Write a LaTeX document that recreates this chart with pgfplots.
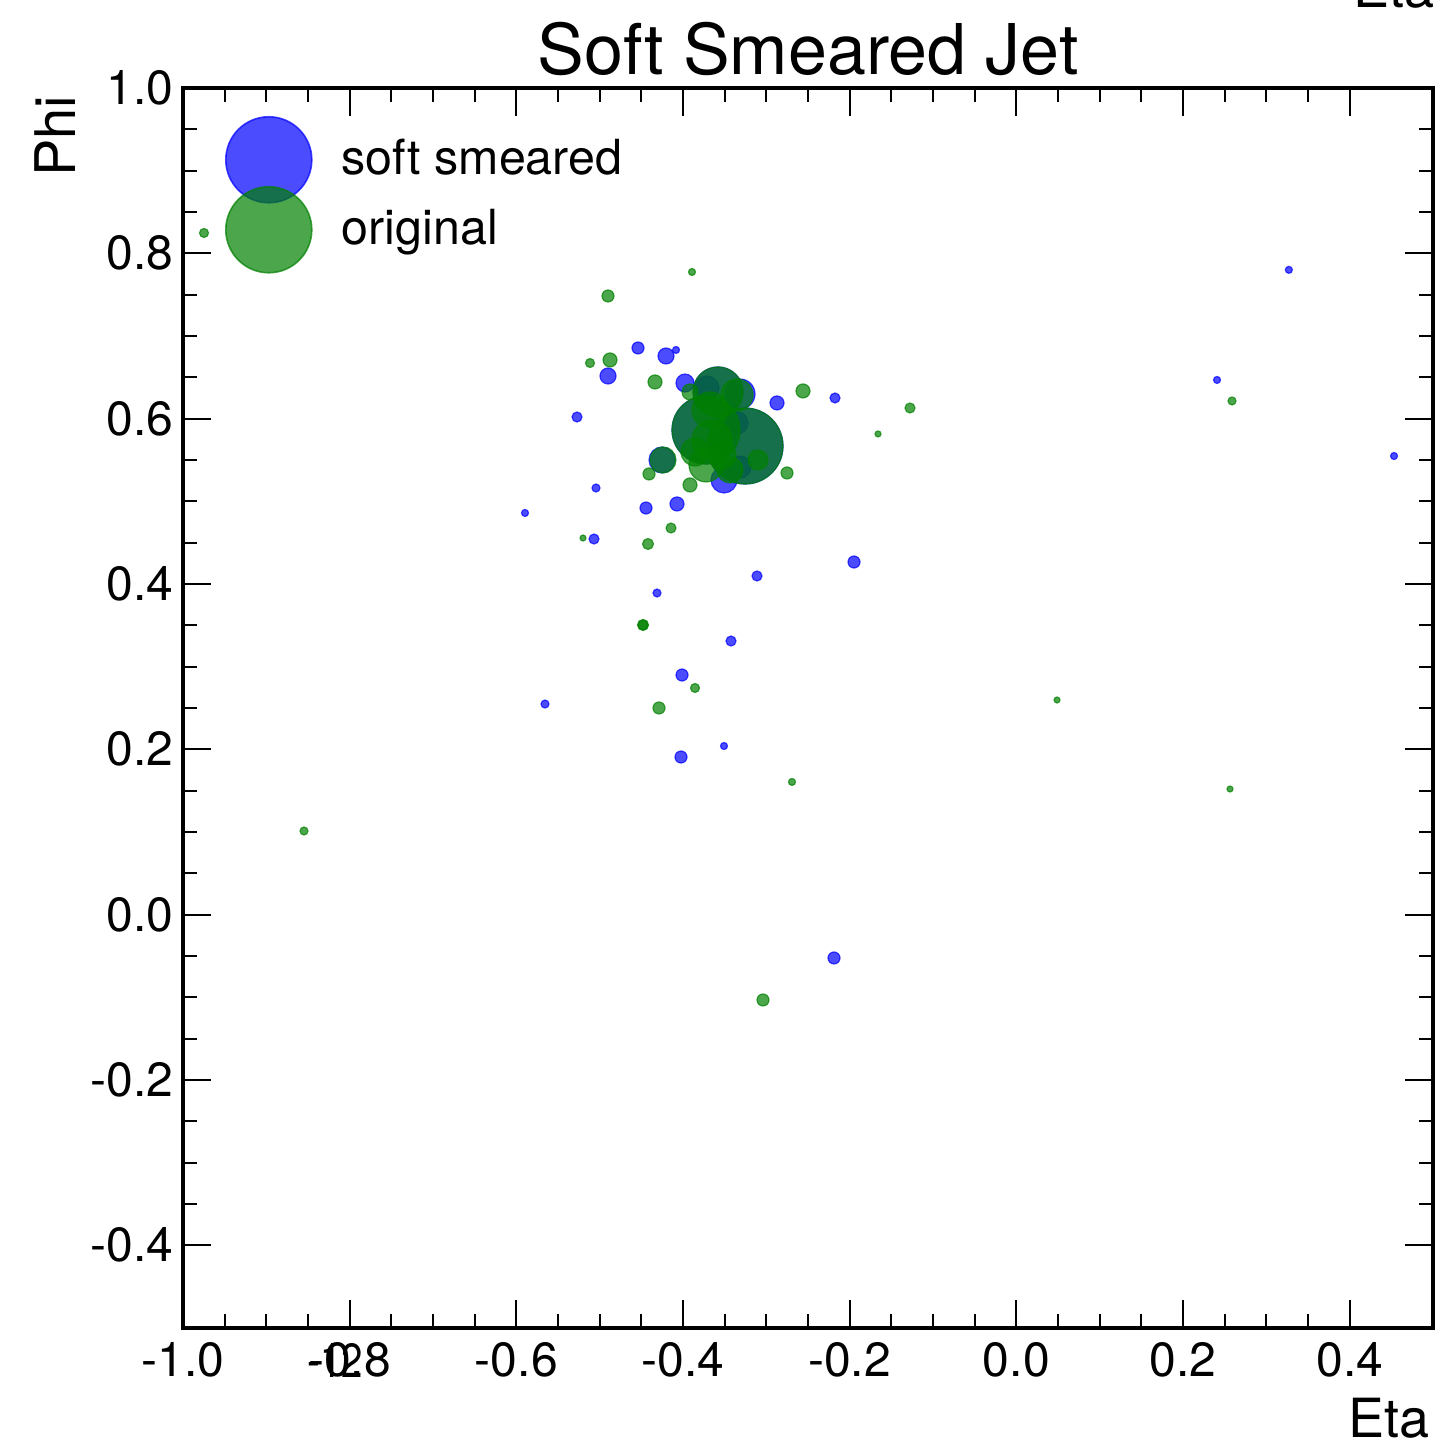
\documentclass[border=0pt]{standalone}
\usepackage{pgfplots}
\usepackage{pgfplotstable}
\pgfplotsset{compat=1.18}
\usepackage{fontspec}
\setmainfont{TeX Gyre Heros}

\pgfplotstableread{
x y r
0.3270 0.7800 3.5
0.2408 0.6468 3.5
0.4532 0.5548 3.5
-0.4540 0.6855 6
-0.4204 0.6758 8
-0.4084 0.6831 3.5
-0.4900 0.6516 8
-0.5272 0.6020 5
-0.3976 0.6431 9
-0.2872 0.6190 7
-0.2176 0.6250 5
-0.5044 0.5161 4
-0.5896 0.4859 3.5
-0.5068 0.4544 5
-0.4444 0.4919 6
-0.4072 0.4968 7
-0.3112 0.4097 5
-0.1948 0.4266 6
-0.4312 0.3891 4
-0.3424 0.3310 5
-0.4012 0.2899 6
-0.5656 0.2548 4
-0.3508 0.2040 3.5
-0.4024 0.1907 6
-0.2188 -0.0524 6
-0.4252 0.5500 13
-0.3508 0.5258 13
-0.3316 0.6298 15
-0.3712 0.6371 12
-0.3352 0.5948 11
-0.3316 0.5415 11
-0.3256 0.5669 38
-0.3724 0.5863 34
-0.3580 0.6323 25
}\bluedata

\pgfplotstableread{
x y r
-0.9748 0.8246 4.5
-0.3892 0.7774 3.5
-0.4900 0.7484 6
-0.4876 0.6710 7
-0.5116 0.6673 4.5
-0.4336 0.6444 7
-0.2560 0.6335 7
-0.1276 0.6129 5
-0.1660 0.5815 3
0.2588 0.6214 4
0.0488 0.2597 3
0.2564 0.1520 3
-0.8548 0.1012 4
-0.2692 0.1605 3.5
-0.3040 -0.1032 6
-0.3856 0.2742 4.5
-0.4288 0.2500 6
-0.4480 0.3504 5.5
-0.4480 0.3504 5
-0.4420 0.4484 5.5
-0.4144 0.4677 5
-0.5200 0.4556 3
-0.4408 0.5331 6
-0.3916 0.5198 7
-0.2752 0.5343 6
-0.4240 0.5500 13
-0.3916 0.6323 8
-0.3352 0.6286 16
-0.3256 0.5669 38
-0.3724 0.5863 34
-0.3580 0.6323 25
-0.3676 0.6105 18
-0.3652 0.5742 20
-0.3724 0.5440 17
-0.3532 0.5561 14
-0.3436 0.5379 13
-0.3856 0.5597 14
-0.3100 0.5500 10
}\greendata

\begin{document}
\begin{tikzpicture}
\begin{axis}[
  name=ax,
  scale only axis,
  width=312.5pt, height=310pt,
  xmin=-1, xmax=0.5, ymin=-0.5, ymax=1,
  xtick={-1,-0.8,-0.6,-0.4,-0.2,0,0.2,0.4},
  ytick={-0.4,-0.2,0,0.2,0.4,0.6,0.8,1.0},
  minor x tick num=3, minor y tick num=3,
  tick align=inside,
  major tick length=7pt, minor tick length=3.5pt,
  every tick/.style={black, line width=0.5pt},
  axis line style={line width=1pt},
  tick label style={font=\fontsize{12}{14}\selectfont},
  /pgf/number format/.cd, fixed, fixed zerofill, precision=1, assume math mode=true,
  /pgfplots/.cd,
  yticklabel style={xshift=1.2pt},
  legend style={draw=none, fill=none, at={(rel axis cs:0,1)}, anchor=north west,
    xshift=10.5pt, yshift=-9pt, inner sep=0pt, row sep=0pt,
    font=\fontsize{12.1}{14.5}\selectfont,
    nodes={inner sep=0pt}, /tikz/column sep=7.5pt},
  legend cell align=left,
]
\addplot[scatter, only marks, mark=*, forget plot,
  point meta=\thisrow{r},
  scatter/use mapped color={draw=blue, fill=blue, draw opacity=0.7, fill opacity=0.7, line width=0.3pt},
  visualization depends on={0.25*\thisrow{r} \as \rad},
  scatter/@pre marker code/.append style={/tikz/mark size=\rad}]
  table[x=x,y=y] {\bluedata};
\addplot[scatter, only marks, mark=*, forget plot,
  point meta=\thisrow{r},
  scatter/use mapped color={draw=green!50!black, fill=green!50!black, draw opacity=0.7, fill opacity=0.7, line width=0.3pt},
  visualization depends on={0.25*\thisrow{r} \as \rad},
  scatter/@pre marker code/.append style={/tikz/mark size=\rad}]
  table[x=x,y=y] {\greendata};
\addlegendimage{legend image code/.code={\fill[blue, opacity=0.7, overlay] (0pt,0pt) circle (10.75pt); \path[draw=none, fill=none] (-10.75pt,-8.75pt) rectangle (10.75pt,8.75pt);}}
\addlegendentry{soft smeared}
\addlegendimage{legend image code/.code={\fill[green!50!black, opacity=0.7, overlay] (0pt,0pt) circle (10.75pt); \path[draw=none, fill=none] (-10.75pt,-8.75pt) rectangle (10.75pt,8.75pt);}}
\addlegendentry{original}
\end{axis}
\node[anchor=base, font=\fontsize{17.5}{21}\selectfont] at ([yshift=3.25pt]ax.north) {Soft Smeared Jet};
\node[anchor=base east, font=\fontsize{13.5}{16}\selectfont, inner sep=0pt] at ([shift={(-0.75pt,-27.25pt)}]ax.south east) {Eta};
\node[anchor=base east, font=\fontsize{13.5}{16}\selectfont, inner sep=0pt] at ([shift={(0.5pt,20pt)}]ax.north east) {Eta};
\node[rotate=90, anchor=base east, font=\fontsize{14}{16}\selectfont, inner sep=0pt] at ([shift={(-27pt,-1.75pt)}]ax.north west) {Phi};
\node[anchor=base, font=\fontsize{12}{14}\selectfont, inner sep=0pt, xscale=0.8] at ([shift={(38pt,-12.5pt)}]ax.south west) {-12};
\pgfresetboundingbox
\path[use as bounding box] ([shift={(-45.75pt,-31.25pt)}]ax.south west) rectangle ([shift={(314.25pt,332pt)}]ax.south west);
\end{tikzpicture}
\end{document}
